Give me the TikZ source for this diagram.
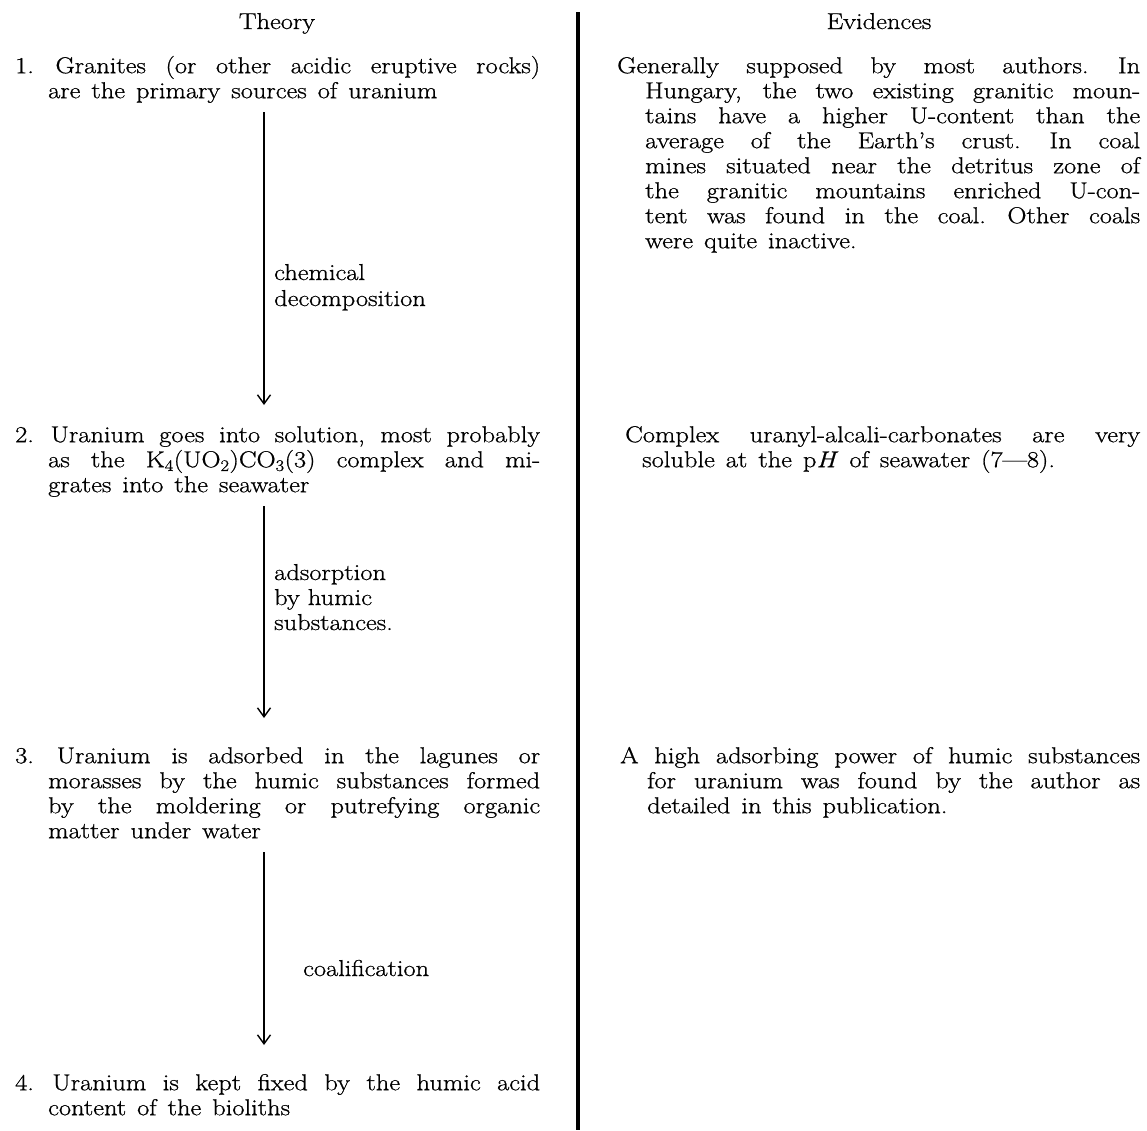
\documentclass[tikz,border=0pt]{standalone}
\usepackage{fontspec}
\setmainfont{Latin Modern Roman}[FakeStretch=1.15,FakeBold=0.8]
\usetikzlibrary{arrows.meta}
\newcommand\bodysize{\fontsize{23}{25}\selectfont}
\newcommand\hangpar[1]{\rightskip=0pt\leftskip=0pt\parfillskip=0pt plus 1fil\tolerance=10000\hyphenpenalty=10000\exhyphenpenalty=10000\spaceskip=11pt plus 14pt minus 7pt\xspaceskip=13pt plus 14pt minus 7pt\noindent\hangindent=#1\hangafter=1\strut}
\begin{document}
\begin{tikzpicture}[x=1pt,y=-1pt,
  txt/.style={inner sep=0pt, anchor=north west, font=\bodysize, text width=#1},
  head/.style={inner sep=0pt, anchor=base, font=\bodysize},
  lbl/.style={inner sep=0pt, anchor=base west, font=\bodysize},
  flow/.style={line width=1.4pt, -{Straight Barb[length=9pt,width=13pt,line width=1.4pt]}},
  rule/.style={line width=3.5pt}]
\path[use as bounding box] (0,0) rectangle (1147,1130);
% headers
\node[head] (hT) at (277,29) {Theory};
\node[head] (hE) at (879,29) {Evidences};
% divider
\coordinate (dtop) at (578,12);
\coordinate (dbot) at (578,1130);
\draw[rule] (dtop) -- (dbot);
% theory column (node y = first baseline - 17.5)
\node[txt=525pt] (t1) at (15,55.5) {\hangpar{33pt}1. Granites (or other acidic eruptive rocks)\linebreak are the primary sources of uranium\par};
\node[txt=525pt] (t2) at (15,424.5) {\hangpar{33pt}2. Uranium goes into solution, most probably\linebreak as the K\textsubscript{4}(UO\textsubscript{2})CO\textsubscript{3}(3) complex and mi-\linebreak grates into the seawater\par};
\node[txt=525pt] (t3) at (15,745.5) {\hangpar{33pt}3. Uranium is adsorbed in the lagunes or\linebreak morasses by the humic substances formed\linebreak by the moldering or putrefying organic\linebreak matter under water\par};
\node[txt=525pt] (t4) at (15,1072.5) {\hangpar{33pt}4. Uranium is kept fixed by the humic acid\linebreak content of the bioliths\par};
% arrows
\coordinate (a1s) at (264,112); \coordinate (a1e) at (264,405);
\coordinate (a2s) at (264,506); \coordinate (a2e) at (264,718);
\coordinate (a3s) at (264,852); \coordinate (a3e) at (264,1045);
\draw[flow] (a1s) -- (a1e);
\draw[flow] (a2s) -- (a2e);
\draw[flow] (a3s) -- (a3e);
\node[lbl] (l1a) at (274,280) {chemical};
\node[lbl] (l1b) at (274,306) {decomposition};
\node[lbl] (l2a) at (274,580) {adsorption};
\node[lbl] (l2b) at (274,605) {by humic};
\node[lbl] (l2c) at (274,630) {substances.};
\node[lbl] (l3) at (303,976) {coalification};
% evidences column
\node[txt=523pt] (e1) at (617,55.5) {\hangpar{28pt}Generally supposed by most authors. In\linebreak Hungary, the two existing granitic moun-\linebreak tains have a higher U-content than the\linebreak average of the Earth's crust. In coal\linebreak mines situated near the detritus zone of\linebreak the granitic mountains enriched U-con-\linebreak tent was found in the coal. Other coals\linebreak were quite inactive.\par};
\node[txt=515pt] (e2) at (625,424.5) {\hangpar{17pt}Complex uranyl-alcali-carbonates are very\linebreak soluble at the p\textit{H} of seawater (7—8).\par};
\node[txt=520pt] (e3) at (620,745.5) {\hangpar{27pt}A high adsorbing power of humic substances\linebreak for uranium was found by the author as\linebreak detailed in this publication.\par};
\end{tikzpicture}
\end{document}
